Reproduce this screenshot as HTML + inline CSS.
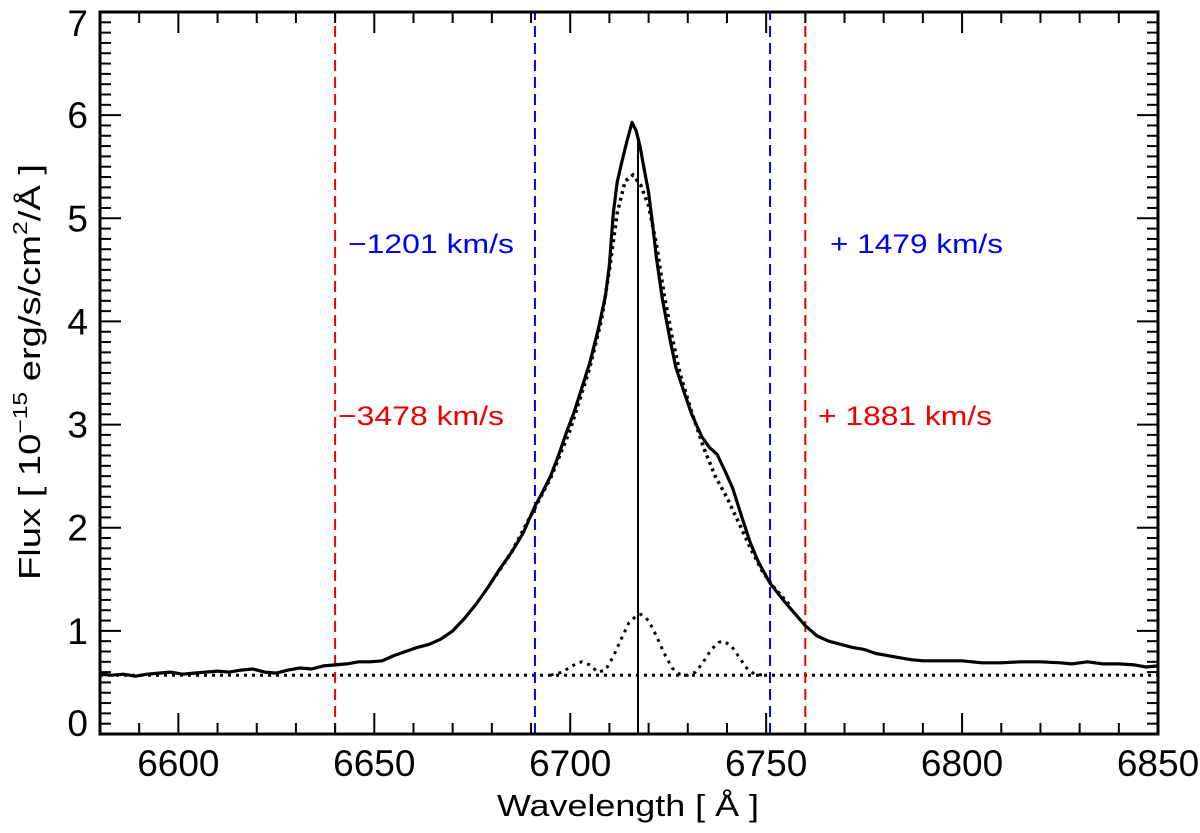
<!DOCTYPE html>
<html><head><meta charset="utf-8"><style>
html,body{margin:0;padding:0;background:#fff;}
svg{display:block;font-family:"Liberation Sans",Arial,sans-serif;}
</style></head><body>
<svg id="chart" width="1200" height="833" viewBox="0 0 1200 833" xmlns="http://www.w3.org/2000/svg">
<rect width="1200" height="833" fill="#fff"/>
<g id="marks"></g>
<g id="axes"></g>
<text x="628" y="816" font-size="31" text-anchor="middle" textLength="262" lengthAdjust="spacingAndGlyphs">Wavelength [ Å ]</text>
<text transform="translate(40,372) rotate(-90)" font-size="31" text-anchor="middle" textLength="416" lengthAdjust="spacingAndGlyphs">Flux  [ 10<tspan font-size="20" dy="-13">−15</tspan><tspan dy="13"> erg/s/cm</tspan><tspan font-size="20" dy="-13">2</tspan><tspan dy="13">/Å ]</tspan></text>
<text x="348" y="253" font-size="27" fill="#0000ee" textLength="166" lengthAdjust="spacingAndGlyphs">−1201 km/s</text>
<text x="830" y="253" font-size="27" fill="#0000ee" textLength="173" lengthAdjust="spacingAndGlyphs">+ 1479 km/s</text>
<text x="338" y="425" font-size="27" fill="#ee0000" textLength="166" lengthAdjust="spacingAndGlyphs">−3478 km/s</text>
<text x="818" y="425" font-size="27" fill="#ee0000" textLength="174" lengthAdjust="spacingAndGlyphs">+ 1881 km/s</text>
</svg>
<script>
const totalWave = [6580,6583,6586,6589,6592,6595,6598,6601,6604,6607,6610,6613,6616,6619,6622,6625,6628,6631,6634,6637,6640,6643,6646,6649,6652,6655,6658,6661,6664,6667,6670,6673,6676,6679,6682,6685,6688,6691,6693,6695,6697,6699,6701,6703,6705,6707,6709,6710,6711,6712,6713.2,6714.5,6715.8,6716.8,6717.8,6719,6720,6721,6722,6723.5,6725.5,6727,6729,6731,6733.6,6735.5,6737.5,6739.5,6741.5,6744,6746,6748,6751,6755,6760,6763,6766,6769,6772,6775,6778,6781,6784,6787,6790,6795,6800,6805,6810,6815,6820,6825,6828,6832,6836,6840,6844,6847,6850];
const totalFlux = [0.58,0.57,0.58,0.56,0.58,0.59,0.60,0.58,0.59,0.60,0.61,0.60,0.62,0.63,0.60,0.59,0.62,0.64,0.63,0.66,0.67,0.68,0.70,0.70,0.71,0.76,0.80,0.84,0.87,0.92,1.00,1.12,1.26,1.42,1.60,1.76,1.95,2.21,2.35,2.50,2.70,2.92,3.12,3.36,3.60,3.90,4.25,4.55,5.05,5.35,5.55,5.75,5.93,5.85,5.70,5.45,5.25,4.95,4.62,4.22,3.82,3.55,3.32,3.10,2.88,2.78,2.71,2.55,2.38,2.08,1.85,1.67,1.46,1.27,1.05,0.95,0.90,0.87,0.84,0.82,0.78,0.76,0.74,0.72,0.71,0.71,0.71,0.69,0.69,0.70,0.70,0.69,0.68,0.70,0.68,0.68,0.67,0.65,0.66];
const broadWave = [6680,6685,6690,6695,6700,6705,6708,6710,6712,6714,6716,6718,6720,6722,6724,6726,6728,6731,6734,6737,6740,6743,6746,6749,6752,6756];
const broadFlux = [1.48,1.76,2.12,2.48,2.95,3.55,4.02,4.50,5.05,5.36,5.42,5.32,5.12,4.75,4.25,3.85,3.50,3.12,2.78,2.50,2.29,2.05,1.80,1.58,1.42,1.25];
const narrowWave = [6695,6698,6700,6702,6703,6705,6707,6709,6711,6713,6715,6717,6718,6720,6722,6724,6726,6728,6730,6732,6734,6736,6738,6739,6741,6743,6745,6747,6750];
const narrowFlux = [0.57,0.60,0.65,0.69,0.70,0.67,0.60,0.62,0.75,0.92,1.08,1.15,1.16,1.10,0.95,0.78,0.64,0.58,0.57,0.60,0.70,0.82,0.89,0.90,0.86,0.75,0.64,0.58,0.57];
const continuumLevel = [0.57];
const redLines = [6640,6760];
const blueLines = [6691,6751];
const centerLine = [6717.3, 5.78];
const xTicks = [6600,6650,6700,6750,6800,6850];
const yTicks = [0,1,2,3,4,5,6,7];

const X0=100,X1=1158,Y0=734,Y1=12, XMIN=6580,XMAX=6850,YMIN=0,YMAX=7;
const sx=v=>X0+(v-XMIN)/(XMAX-XMIN)*(X1-X0);
const sy=v=>Y0-(v-YMIN)/(YMAX-YMIN)*(Y0-Y1);
const NS="http://www.w3.org/2000/svg";
const marks=document.getElementById('marks'), axes=document.getElementById('axes');
function mk(tag,parent,attrs){const e=document.createElementNS(NS,tag);for(const k in attrs)e.setAttribute(k,attrs[k]);parent.appendChild(e);return e;}
function pts(w,f){return w.map((x,i)=>sx(x).toFixed(1)+','+sy(f[i]).toFixed(1)).join(' ');}

// continuum
let c=mk('line',marks,{x1:X0,x2:X1,y1:sy(continuumLevel[0]),y2:sy(continuumLevel[0]),stroke:'#000','stroke-width':3,'stroke-dasharray':'3 5'});


// vlines
redLines.forEach((w,i)=>{const l=mk('line',marks,{x1:sx(w),x2:sx(w),y1:Y0,y2:Y1,stroke:'#ee0000','stroke-width':2,'stroke-dasharray':'11 6'});

});
blueLines.forEach((w,i)=>{const l=mk('line',marks,{x1:sx(w),x2:sx(w),y1:Y0,y2:Y1,stroke:'#0000ee','stroke-width':2,'stroke-dasharray':'11 6'});

});
// narrow
let n=mk('polyline',marks,{points:pts(narrowWave,narrowFlux),fill:'none',stroke:'#000','stroke-width':3,'stroke-dasharray':'3 5'});


// broad
let b=mk('polyline',marks,{points:pts(broadWave,broadFlux),fill:'none',stroke:'#000','stroke-width':3.5,'stroke-dasharray':'3 4'});


// center
let cl=mk('line',marks,{x1:sx(centerLine[0]),x2:sx(centerLine[0]),y1:Y0,y2:sy(centerLine[1]),stroke:'#000','stroke-width':2});


// total
let t=mk('polyline',marks,{points:pts(totalWave,totalFlux),fill:'none',stroke:'#000','stroke-width':3.2,'stroke-linejoin':'round'});



// frame
let fr=mk('rect',axes,{x:X0,y:Y1,width:X1-X0,height:Y0-Y1,fill:'none',stroke:'#000','stroke-width':3});


// x ticks
for(let w=XMIN;w<=XMAX;w+=10){const maj=w%50===0;const L=maj?21:11;
 mk('line',axes,{x1:sx(w),x2:sx(w),y1:Y0,y2:Y0-L,stroke:'#000','stroke-width':2});
 mk('line',axes,{x1:sx(w),x2:sx(w),y1:Y1,y2:Y1+L,stroke:'#000','stroke-width':2});}
xTicks.forEach(v=>{const tx=mk('text',axes,{x:sx(v),y:776,'font-size':37,'text-anchor':'middle'});tx.textContent=v;

});
for(let k=0;k<=70;k++){const v=k/10;const maj=k%10===0;const L=maj?21:11;
 mk('line',axes,{x1:X0,x2:X0+L,y1:sy(v),y2:sy(v),stroke:'#000','stroke-width':2});
 mk('line',axes,{x1:X1,x2:X1-L,y1:sy(v),y2:sy(v),stroke:'#000','stroke-width':2});}
yTicks.forEach(v=>{let yy=sy(v)+13; if(v===0)yy-=11; if(v===7)yy+=11;
 const tx=mk('text',axes,{x:88,y:yy,'font-size':37,'text-anchor':'end'});tx.textContent=v;
 
 });
</script>
</body></html>
